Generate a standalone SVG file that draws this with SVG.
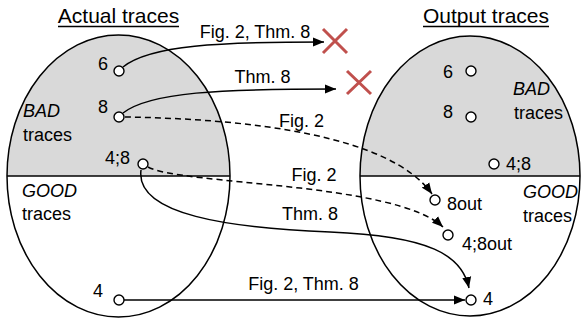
<svg xmlns="http://www.w3.org/2000/svg" width="582" height="320" viewBox="0 0 582 320">
<style>
text{font-family:"Liberation Sans",Arial,sans-serif;font-size:18px;fill:#000}
.title{font-size:21px}
.it{font-style:italic}
.pt{fill:#fff;stroke:#000;stroke-width:1.4}
.ell{fill:none;stroke:#000;stroke-width:1.5}
.half{fill:#d9d9d9;stroke:none}
.div{stroke:#000;stroke-width:1.3}
.c{fill:none;stroke:#000;stroke-width:1.5}
.d{stroke-dasharray:6,4}
.x{stroke:#c0504d;stroke-width:3;fill:none}
.ul{stroke:#000;stroke-width:1.3}
</style>
<defs>
<marker id="ah" markerUnits="userSpaceOnUse" markerWidth="12" markerHeight="10" refX="11" refY="5" orient="auto">
<path d="M0,0.5 L11,5 L0,9.5 Z" fill="#000" stroke="none"/>
</marker>
</defs>

<g id="actual-set">
<path class="half" d="M7,176 A111.5,141 0 0 1 230,176 Z"/>
<line class="div" x1="7" y1="176" x2="230" y2="176"/>
<ellipse class="ell" cx="118.5" cy="176" rx="111.5" ry="141"/>
<text class="title" x="118.5" y="23" text-anchor="middle">Actual traces</text>
<line class="ul" x1="58" y1="26.5" x2="179" y2="26.5"/>
<text class="it" x="23" y="117">BAD</text>
<text x="23" y="141">traces</text>
<text class="it" x="22" y="197">GOOD</text>
<text x="22" y="220">traces</text>
</g>

<g id="output-set">
<path class="half" d="M360,176 A110,140 0 0 1 580,176 Z"/>
<line class="div" x1="360" y1="176" x2="580" y2="176"/>
<ellipse class="ell" cx="470" cy="176" rx="110" ry="140"/>
<text class="title" x="486" y="23" text-anchor="middle">Output traces</text>
<line class="ul" x1="423" y1="26.5" x2="549" y2="26.5"/>
<text class="it" x="513" y="95">BAD</text>
<text x="514" y="119">traces</text>
<text class="it" x="523" y="198">GOOD</text>
<text x="523" y="222">traces</text>
</g>

<g id="connectors">
<path class="c" d="M123,67 C150,45 220,42 324,42" marker-end="url(#ah)"/>
<path class="c" d="M123,113 C150,92 220,89 336,89" marker-end="url(#ah)"/>
<path class="c d" d="M125,117 C250,119 390,135 432,194" marker-end="url(#ah)"/>
<path class="c d" d="M148,167 C180,185 395,182 443,227" marker-end="url(#ah)"/>
<path class="c" d="M141,170 C135,215 230,228 330,232 C430,236 462,255 469,288" marker-end="url(#ah)"/>
<path class="c" d="M124,300 L465,300" marker-end="url(#ah)"/>
<text x="255" y="38" text-anchor="middle">Fig. 2, Thm. 8</text>
<text x="262.5" y="83" text-anchor="middle">Thm. 8</text>
<text x="301.5" y="127" text-anchor="middle">Fig. 2</text>
<text x="314" y="181" text-anchor="middle">Fig. 2</text>
<text x="310" y="220" text-anchor="middle">Thm. 8</text>
<text x="303.5" y="290" text-anchor="middle">Fig. 2, Thm. 8</text>
</g>

<g id="reject-1"><path class="x" d="M323,29 L347,53 M347,29 L323,53"/></g>
<g id="reject-2"><path class="x" d="M347,71 L371,94 M371,71 L347,94"/></g>

<g id="a6"><circle class="pt" cx="119" cy="71" r="5"/><text x="108" y="70" text-anchor="end">6</text></g>
<g id="a8"><circle class="pt" cx="119" cy="117" r="5"/><text x="108" y="113" text-anchor="end">8</text></g>
<g id="a48"><circle class="pt" cx="143" cy="164" r="5"/><text x="130" y="164" text-anchor="end">4;8</text></g>
<g id="a4"><circle class="pt" cx="119" cy="300" r="5"/><text x="103" y="297" text-anchor="end">4</text></g>

<g id="o6"><circle class="pt" cx="471" cy="71" r="5"/><text x="453" y="78" text-anchor="end">6</text></g>
<g id="o8"><circle class="pt" cx="471" cy="117" r="5"/><text x="453" y="118" text-anchor="end">8</text></g>
<g id="o48"><circle class="pt" cx="494" cy="164" r="5"/><text x="506" y="170">4;8</text></g>
<g id="o8out"><circle class="pt" cx="435" cy="200" r="5"/><text x="447" y="210">8out</text></g>
<g id="o48out"><circle class="pt" cx="448" cy="235" r="5"/><text x="462" y="250">4;8out</text></g>
<g id="o4"><circle class="pt" cx="471" cy="300" r="5"/><text x="483" y="305">4</text></g>
</svg>
